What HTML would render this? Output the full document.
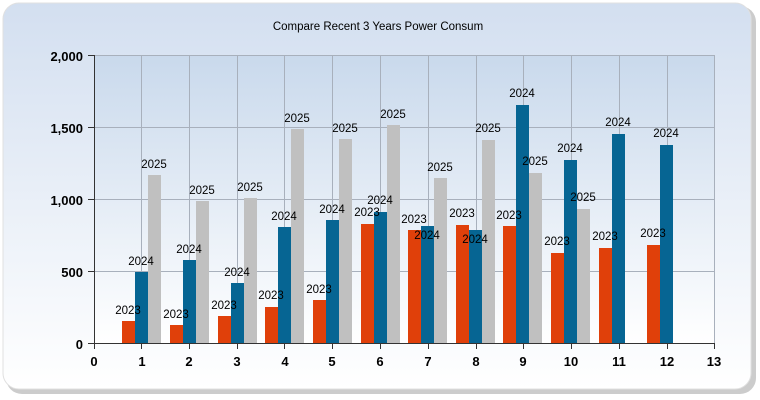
<!DOCTYPE html>
<html><head><meta charset="utf-8"><style>
html,body{margin:0;padding:0;width:760px;height:400px;background:#fff;overflow:hidden}
</style></head><body>
<svg width="760" height="400" xmlns="http://www.w3.org/2000/svg" font-family="Liberation Sans, sans-serif">
<defs>
<linearGradient id="bg" x1="0" y1="0" x2="0" y2="1"><stop offset="0" stop-color="#d3dff0"/><stop offset="1" stop-color="#ffffff"/></linearGradient>
<linearGradient id="pl" x1="0" y1="0" x2="0" y2="1"><stop offset="0" stop-color="#c9d9ec"/><stop offset="1" stop-color="#ffffff"/></linearGradient>
</defs>
<rect x="6" y="6" width="750" height="388" rx="16" fill="#9a9a9a" opacity="0.5"/>
<rect x="3" y="3" width="748" height="386" rx="16" fill="url(#bg)" stroke="#e0e0e0"/>
<text x="378" y="30" font-size="11.5" text-anchor="middle" fill="#000">Compare Recent 3 Years Power Consum</text>
<rect x="94" y="55" width="620" height="288" fill="url(#pl)"/>
<g stroke="#a8b0bc" stroke-width="1">
<line x1="94" y1="55.5" x2="714" y2="55.5"/><line x1="94" y1="127.5" x2="714" y2="127.5"/><line x1="94" y1="199.5" x2="714" y2="199.5"/><line x1="94" y1="271.5" x2="714" y2="271.5"/>
<line x1="141.5" y1="55" x2="141.5" y2="343"/><line x1="189.5" y1="55" x2="189.5" y2="343"/><line x1="237.5" y1="55" x2="237.5" y2="343"/><line x1="284.5" y1="55" x2="284.5" y2="343"/><line x1="332.5" y1="55" x2="332.5" y2="343"/><line x1="380.5" y1="55" x2="380.5" y2="343"/><line x1="428.5" y1="55" x2="428.5" y2="343"/><line x1="476.5" y1="55" x2="476.5" y2="343"/><line x1="523.5" y1="55" x2="523.5" y2="343"/><line x1="571.5" y1="55" x2="571.5" y2="343"/><line x1="619.5" y1="55" x2="619.5" y2="343"/><line x1="667.5" y1="55" x2="667.5" y2="343"/><line x1="714.5" y1="55" x2="714.5" y2="343"/>
</g>
<g id="bars">
<rect x="122" y="321" width="13" height="22" fill="#e0400a"/><rect x="135" y="272" width="13" height="71" fill="#066593"/><rect x="148" y="175" width="13" height="168" fill="#c0c0c0"/>
<rect x="170" y="325" width="13" height="18" fill="#e0400a"/><rect x="183" y="260" width="13" height="83" fill="#066593"/><rect x="196" y="201" width="13" height="142" fill="#c0c0c0"/>
<rect x="218" y="316" width="13" height="27" fill="#e0400a"/><rect x="231" y="283" width="13" height="60" fill="#066593"/><rect x="244" y="198" width="13" height="145" fill="#c0c0c0"/>
<rect x="265" y="307" width="13" height="36" fill="#e0400a"/><rect x="278" y="227" width="13" height="116" fill="#066593"/><rect x="291" y="129" width="13" height="214" fill="#c0c0c0"/>
<rect x="313" y="300" width="13" height="43" fill="#e0400a"/><rect x="326" y="220" width="13" height="123" fill="#066593"/><rect x="339" y="139" width="13" height="204" fill="#c0c0c0"/>
<rect x="361" y="224" width="13" height="119" fill="#e0400a"/><rect x="374" y="212" width="13" height="131" fill="#066593"/><rect x="387" y="125" width="13" height="218" fill="#c0c0c0"/>
<rect x="408" y="230" width="13" height="113" fill="#e0400a"/><rect x="421" y="226" width="13" height="117" fill="#066593"/><rect x="434" y="178" width="13" height="165" fill="#c0c0c0"/>
<rect x="456" y="225" width="13" height="118" fill="#e0400a"/><rect x="469" y="230" width="13" height="113" fill="#066593"/><rect x="482" y="140" width="13" height="203" fill="#c0c0c0"/>
<rect x="503" y="226" width="13" height="117" fill="#e0400a"/><rect x="516" y="105" width="13" height="238" fill="#066593"/><rect x="529" y="173" width="13" height="170" fill="#c0c0c0"/>
<rect x="551" y="253" width="13" height="90" fill="#e0400a"/><rect x="564" y="160" width="13" height="183" fill="#066593"/><rect x="577" y="209" width="13" height="134" fill="#c0c0c0"/>
<rect x="599" y="248" width="13" height="95" fill="#e0400a"/><rect x="612" y="134" width="13" height="209" fill="#066593"/>
<rect x="647" y="245" width="13" height="98" fill="#e0400a"/><rect x="660" y="145" width="13" height="198" fill="#066593"/>
</g>
<g font-size="11.5" fill="#000" text-anchor="middle">
<text x="128" y="314">2023</text><text x="141" y="265">2024</text><text x="154" y="168">2025</text>
<text x="176" y="318">2023</text><text x="189" y="253">2024</text><text x="202" y="194">2025</text>
<text x="224" y="309">2023</text><text x="237" y="276">2024</text><text x="250" y="191">2025</text>
<text x="271" y="299">2023</text><text x="284" y="220">2024</text><text x="297" y="122">2025</text>
<text x="319" y="293">2023</text><text x="332" y="213">2024</text><text x="345" y="132">2025</text>
<text x="367" y="216">2023</text><text x="380" y="204">2024</text><text x="393" y="118">2025</text>
<text x="414" y="223">2023</text><text x="427" y="239">2024</text><text x="440" y="171">2025</text>
<text x="462" y="217">2023</text><text x="475" y="243">2024</text><text x="488" y="132">2025</text>
<text x="509" y="219">2023</text><text x="522" y="97">2024</text><text x="535" y="165">2025</text>
<text x="557" y="245">2023</text><text x="570" y="152">2024</text><text x="583" y="201">2025</text>
<text x="605" y="240">2023</text><text x="618" y="126">2024</text>
<text x="653" y="237">2023</text><text x="666" y="137">2024</text>
</g>
<g stroke="#333" stroke-width="1">
<line x1="94.5" y1="55" x2="94.5" y2="349"/><line x1="88" y1="343.5" x2="714" y2="343.5"/>
<line x1="88" y1="55.5" x2="94" y2="55.5"/><line x1="88" y1="127.5" x2="94" y2="127.5"/><line x1="88" y1="199.5" x2="94" y2="199.5"/><line x1="88" y1="271.5" x2="94" y2="271.5"/>
<line x1="141.5" y1="343" x2="141.5" y2="349"/><line x1="189.5" y1="343" x2="189.5" y2="349"/><line x1="237.5" y1="343" x2="237.5" y2="349"/><line x1="284.5" y1="343" x2="284.5" y2="349"/><line x1="332.5" y1="343" x2="332.5" y2="349"/><line x1="380.5" y1="343" x2="380.5" y2="349"/><line x1="428.5" y1="343" x2="428.5" y2="349"/><line x1="476.5" y1="343" x2="476.5" y2="349"/><line x1="523.5" y1="343" x2="523.5" y2="349"/><line x1="571.5" y1="343" x2="571.5" y2="349"/><line x1="619.5" y1="343" x2="619.5" y2="349"/><line x1="667.5" y1="343" x2="667.5" y2="349"/><line x1="714.5" y1="343" x2="714.5" y2="349"/>
</g>
<g font-size="13" font-weight="bold" fill="#000" text-anchor="end">
<text x="83" y="61">2,000</text><text x="83" y="133">1,500</text><text x="83" y="205">1,000</text><text x="83" y="277">500</text><text x="83" y="349">0</text>
</g>
<g font-size="13" font-weight="bold" fill="#000" text-anchor="middle">
<text x="94" y="366">0</text><text x="142" y="366">1</text><text x="189" y="366">2</text><text x="237" y="366">3</text><text x="285" y="366">4</text><text x="332" y="366">5</text><text x="380" y="366">6</text><text x="428" y="366">7</text><text x="476" y="366">8</text><text x="523" y="366">9</text><text x="571" y="366">10</text><text x="619" y="366">11</text><text x="667" y="366">12</text><text x="714" y="366">13</text>
</g>
</svg>
</body></html>
